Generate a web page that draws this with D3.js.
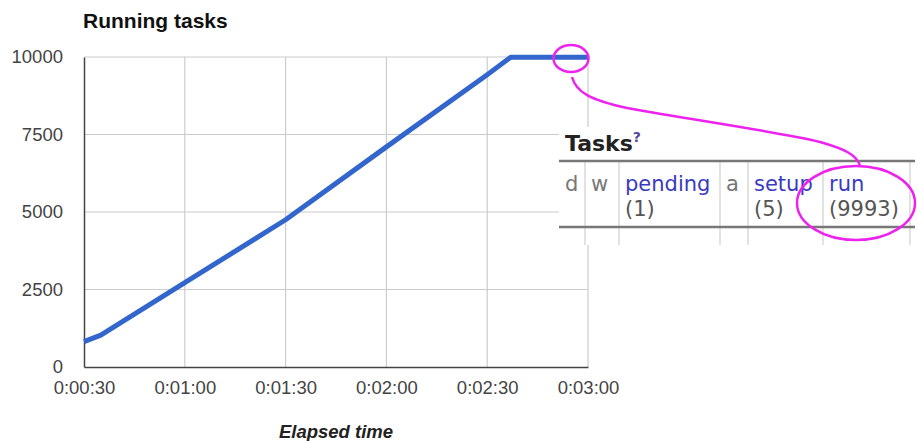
<!DOCTYPE html>
<html>
<head>
<meta charset="utf-8">
<script src="https://cdn.jsdelivr.net/npm/d3@7"></script>
<style>
  body { margin: 0; background: #fff; }
  svg { display: block; }
</style>
</head>
<body>
<svg id="chart"></svg>
<script>
// elapsed seconds and running task counts
const elapsedSec = [30, 35, 60, 90, 120, 150, 157, 180];
const runningTasks = [820, 1030, 2720, 4750, 7100, 9430, 9993, 9993];
const xTickSec = [30, 60, 90, 120, 150, 180];
const yTicks = [0, 2500, 5000, 7500, 10000];

// the little tasks table pasted over the chart
const taskCols = ["d", "w", "pending", "a", "setup", "run"];
const taskCounts = ["", "", "(1)", "", "(5)", "(9993)"];
const taskLinks = [false, false, true, false, true, true];
const colEdges = [559, 585, 619, 720, 748, 823, 910];

const W = 918, H = 441;
const margin = { top: 57, right: 330, bottom: 74, left: 84 };

const svg = d3.select("#chart").attr("width", W).attr("height", H);

const x = d3.scaleLinear().domain([30, 180]).range([margin.left, W - margin.right]);
const y = d3.scaleLinear().domain([0, 10000]).range([H - margin.bottom, margin.top]);

const fmtTime = s => {
  const m = Math.floor(s / 60), sec = s % 60;
  return `0:${String(m).padStart(2, "0")}:${String(sec).padStart(2, "0")}`;
};

// gridlines
svg.append("g")
  .selectAll("line.vg")
  .data(xTickSec.slice(1))
  .join("line")
  .attr("x1", d => x(d)).attr("x2", d => x(d))
  .attr("y1", y(10000)).attr("y2", y(0))
  .attr("stroke", "#cccccc").attr("stroke-width", 1.2);

svg.append("g")
  .selectAll("line.hg")
  .data(yTicks.slice(1))
  .join("line")
  .attr("x1", x(30)).attr("x2", x(180))
  .attr("y1", d => y(d)).attr("y2", d => y(d))
  .attr("stroke", "#cccccc").attr("stroke-width", 1.2);

// axes
const xAxis = d3.axisBottom(x).tickValues(xTickSec).tickFormat(fmtTime).tickSize(0).tickPadding(14);
const yAxis = d3.axisLeft(y).tickValues(yTicks).tickFormat(d3.format("d")).tickSize(0).tickPadding(21);

const xg = svg.append("g").attr("transform", `translate(0,${y(0)})`).call(xAxis);
const yg = svg.append("g").attr("transform", `translate(${x(30)},0)`).call(yAxis);
[xg, yg].forEach(g => {
  g.select(".domain").attr("stroke", "#444").attr("stroke-width", 1.5);
  g.selectAll("text")
    .attr("fill", "#444")
    .style("font-family", "'Liberation Sans', Arial, sans-serif")
    .style("font-size", "18.5px");
});

// the line
const line = d3.line().x((d, i) => x(elapsedSec[i])).y(d => y(d));
svg.append("path")
  .datum(runningTasks)
  .attr("d", line)
  .attr("fill", "none")
  .attr("stroke", "#3366cc")
  .attr("stroke-width", 5)
  .attr("stroke-linejoin", "round");

// titles
svg.append("text")
  .attr("x", 83).attr("y", 28)
  .style("font-family", "'Liberation Sans', Arial, sans-serif")
  .style("font-size", "21px").style("font-weight", "bold")
  .attr("fill", "#111")
  .text("Running tasks");

svg.append("text")
  .attr("x", (x(30) + x(180)) / 2).attr("y", 438)
  .attr("text-anchor", "middle")
  .style("font-family", "'Liberation Sans', Arial, sans-serif")
  .style("font-size", "18.5px").style("font-weight", "bold").style("font-style", "italic")
  .attr("fill", "#222")
  .text("Elapsed time");

// tasks table panel
const panel = svg.append("g");
panel.append("rect")
  .attr("x", 559).attr("y", 127).attr("width", W - 559).attr("height", 118)
  .attr("fill", "#fff");

const tableFont = "'DejaVu Sans', Verdana, sans-serif";

panel.selectAll("line.col")
  .data(colEdges.slice(1))
  .join("line")
  .attr("x1", d => d).attr("x2", d => d)
  .attr("y1", 161).attr("y2", 245)
  .attr("stroke", "#d8d8d8").attr("stroke-width", 1.5);

panel.selectAll("line.rule")
  .data([161, 227])
  .join("line")
  .attr("x1", 559).attr("x2", 915)
  .attr("y1", d => d).attr("y2", d => d)
  .attr("stroke", "#777").attr("stroke-width", 2.5);

panel.append("text")
  .attr("x", 565).attr("y", 151)
  .style("font-family", tableFont).style("font-size", "22px").style("font-weight", "bold")
  .attr("fill", "#222")
  .text("Tasks")
  .append("tspan")
  .attr("dy", -9)
  .style("font-size", "14px")
  .attr("fill", "#55449a")
  .text("?");

panel.selectAll("text.head")
  .data(taskCols)
  .join("text")
  .attr("x", (d, i) => colEdges[i] + 6).attr("y", 191)
  .style("font-family", tableFont).style("font-size", "21px")
  .attr("fill", (d, i) => taskLinks[i] ? "#3a3ac0" : "#777")
  .text(d => d);

panel.selectAll("text.count")
  .data(taskCounts)
  .join("text")
  .attr("x", (d, i) => colEdges[i] + 6).attr("y", 216)
  .style("font-family", tableFont).style("font-size", "21px")
  .attr("fill", "#555")
  .text(d => d);

// magenta annotation
const pink = "#ee22ee";
svg.append("ellipse")
  .attr("cx", 571).attr("cy", 58.5).attr("rx", 17.5).attr("ry", 13.5)
  .attr("fill", "none").attr("stroke", pink).attr("stroke-width", 2.5);
svg.append("ellipse")
  .attr("cx", 856).attr("cy", 203).attr("rx", 59).attr("ry", 37)
  .attr("fill", "none").attr("stroke", pink).attr("stroke-width", 2.5);
svg.append("path")
  .attr("d", "M572,77 C576,92 590,100 627,108 C700,121 790,134 820,142 C845,149 857,155 860,166")
  .attr("fill", "none").attr("stroke", pink).attr("stroke-width", 2.5);
</script>
</body>
</html>
